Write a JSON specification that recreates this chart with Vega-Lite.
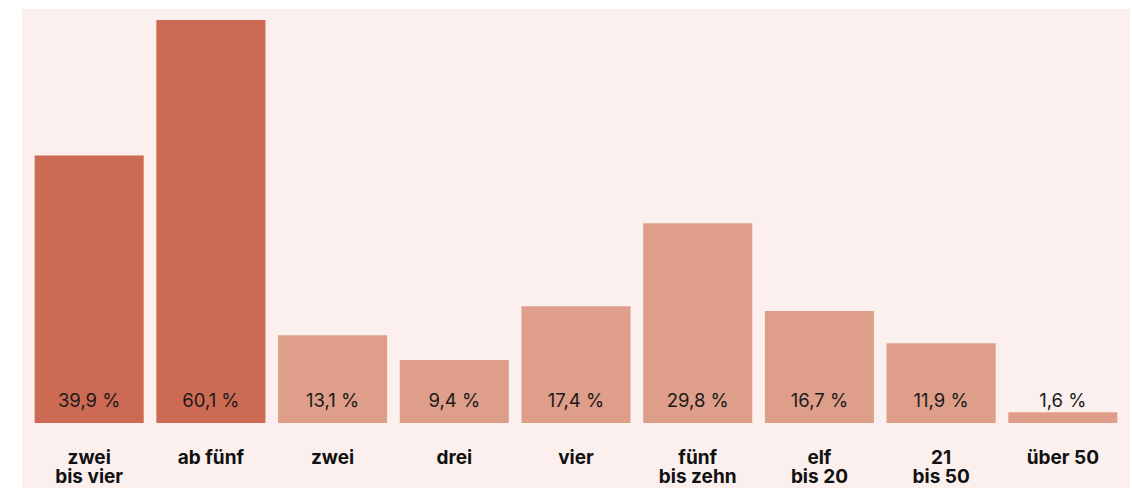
{
  "$schema": "https://vega.github.io/schema/vega-lite/v6.json",
  "autosize": {"type": "none"},
  "width": 1108,
  "height": 479,
  "padding": {"left": 22, "top": 9, "right": 2, "bottom": 0},
  "background": "#ffffff",
  "config": {
    "view": {"fill": "#FBF0EE", "stroke": null},
    "font": "Inter"
  },
  "data": {
    "values": [
      {"cat": "zwei|bis vier", "value": 39.9, "label": "39,9 %", "group": "a"},
      {"cat": "ab fünf", "value": 60.1, "label": "60,1 %", "group": "a"},
      {"cat": "zwei", "value": 13.1, "label": "13,1 %", "group": "b"},
      {"cat": "drei", "value": 9.4, "label": "9,4 %", "group": "b"},
      {"cat": "vier", "value": 17.4, "label": "17,4 %", "group": "b"},
      {"cat": "fünf|bis zehn", "value": 29.8, "label": "29,8 %", "group": "b"},
      {"cat": "elf|bis 20", "value": 16.7, "label": "16,7 %", "group": "b"},
      {"cat": "21|bis 50", "value": 11.9, "label": "11,9 %", "group": "b"},
      {"cat": "über 50", "value": 1.6, "label": "1,6 %", "group": "b"}
    ]
  },
  "encoding": {
    "x": {
      "field": "cat",
      "type": "nominal",
      "sort": null,
      "scale": {"paddingInner": 0.104, "paddingOuter": 0.104},
      "axis": {
        "title": null,
        "orient": "bottom",
        "offset": -48,
        "domain": false,
        "ticks": false,
        "tickSize": 0,
        "labelPadding": 8,
        "labelAngle": 0,
        "labelBaseline": "top",
        "labelFont": "Inter",
        "labelFontWeight": "bold",
        "labelFontSize": 19,
        "labelLineHeight": 19.5,
        "labelColor": "#111111",
        "labelExpr": "split(datum.value, '|')"
      }
    }
  },
  "layer": [
    {
      "mark": {"type": "bar"},
      "encoding": {
        "y": {
          "field": "value",
          "type": "quantitative",
          "scale": {"domain": [-9.69, 61.73], "nice": false, "zero": true},
          "axis": null
        },
        "color": {
          "field": "group",
          "type": "nominal",
          "scale": {"domain": ["a", "b"], "range": ["#CD6A54", "#DF9E89"]},
          "legend": null
        }
      }
    },
    {
      "mark": {"type": "text", "baseline": "alphabetic", "align": "center", "font": "Inter", "fontSize": 18.5, "color": "#1a1a1a"},
      "encoding": {
        "y": {"datum": 2.34, "type": "quantitative"},
        "text": {"field": "label"}
      }
    }
  ]
}
